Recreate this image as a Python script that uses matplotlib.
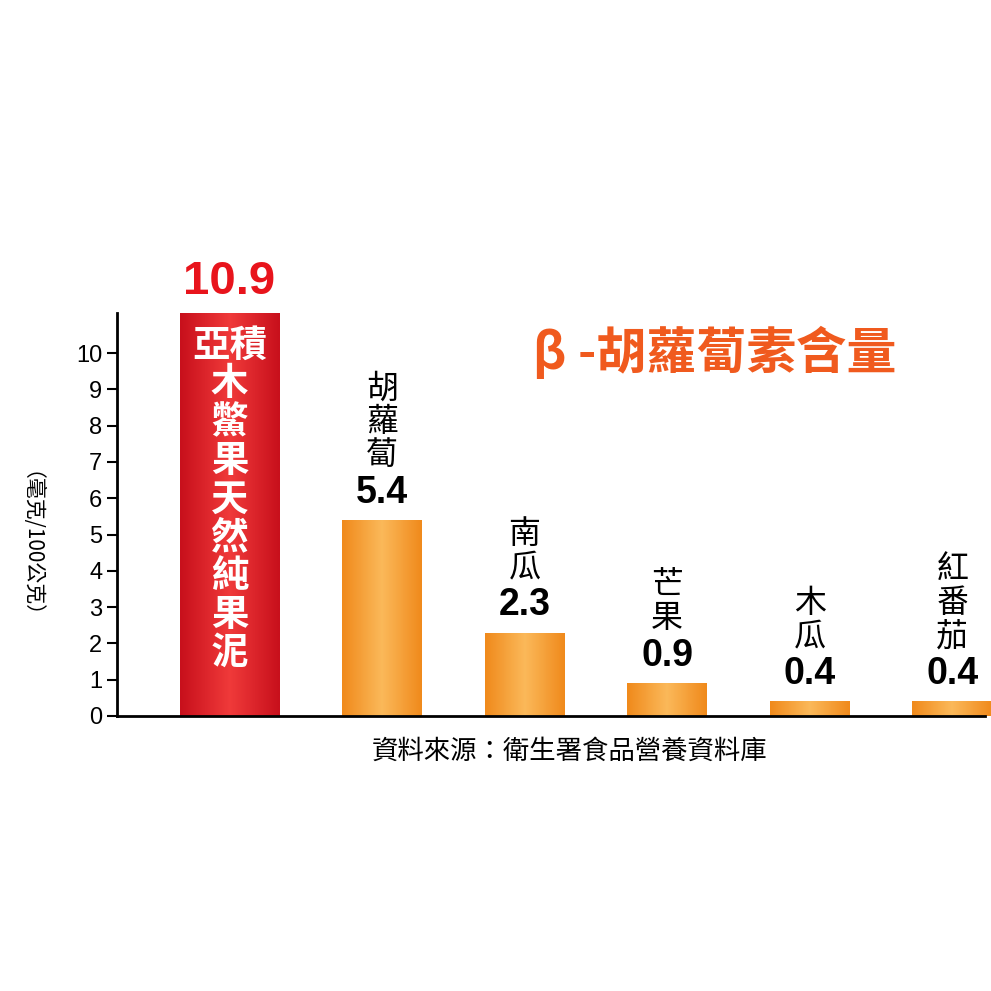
import matplotlib
matplotlib.use("Agg")
import matplotlib.pyplot as plt
import numpy as np

plt.rcParams['font.family'] = ['Noto Sans CJK TC', 'DejaVu Sans']

names = ["亞積 木鱉果天然純果泥", "胡蘿蔔", "南瓜", "芒果", "木瓜", "紅番茄"]
values = [10.9, 5.4, 2.3, 0.9, 0.4, 0.4]
value_labels = ["10.9", "5.4", "2.3", "0.9", "0.4", "0.4"]
yticks = list(range(0, 11))

fig = plt.figure(figsize=(9.91, 9.91), dpi=100)
ax = fig.add_axes([0.118, 0.2775, 0.876, 0.4065])
ax.set_xlim(-0.79, 5.3)
ax.set_ylim(0, 11.1)

x = np.array([0, 1.07, 2.07, 3.07, 4.07, 5.07]) - 0.0
widths = [0.7] + [0.56] * 5
red_cm = matplotlib.colors.LinearSegmentedColormap.from_list("r", ["#c8101c", "#f03a3a", "#c8101c"])
org_cm = matplotlib.colors.LinearSegmentedColormap.from_list("o", ["#f08a1c", "#fbb95a", "#f08a1c"])
grad = np.linspace(0, 1, 64).reshape(1, -1)
for i, (xi, v, w) in enumerate(zip(x, values, widths)):
    top = 11.1 if i == 0 else v
    bar = ax.bar(xi, top, width=w, color="none", edgecolor="none")[0]
    im = ax.imshow(grad, cmap=red_cm if i == 0 else org_cm, aspect="auto",
                   extent=[xi - w / 2, xi + w / 2, 0, top], zorder=2)
    im.set_clip_path(bar)

# labels
ax.text(x[0], 11.35, value_labels[0], ha="center", va="bottom", color="#e8141c",
        fontsize=34, fontweight="bold", family="Liberation Sans", clip_on=False)
red_txt = "\n".join(["亞積"] + list("木鱉果天然純果泥"))
ax.text(x[0], 10.75, red_txt, ha="center", va="top", color="white", fontsize=27,
        fontweight="bold", linespacing=0.98)
for xi, v, lab, nm in zip(x[1:], values[1:], value_labels[1:], names[1:]):
    ax.text(xi, v + 0.25, lab, ha="center", va="bottom", fontsize=27,
            fontweight="bold", family="Liberation Sans")
    ax.text(xi, v + 1.35, "\n".join(nm), ha="center", va="bottom", fontsize=23,
            linespacing=1.05)

ax.text(3.4, 10.0, "β -胡蘿蔔素含量", ha="center", va="center", color="#f05a1e",
        fontsize=36, fontweight="bold")

ax.set_yticks(yticks)
ax.set_yticklabels([str(t) for t in yticks], family="Liberation Sans")
ax.tick_params(axis="y", labelsize=17, length=7, width=1.5, direction="out")
ax.set_xticks([])
for s in ["top", "right"]:
    ax.spines[s].set_visible(False)
ax.spines["left"].set_linewidth(2)
ax.spines["bottom"].set_linewidth(2)

fig.text(0.02, 0.44, "（毫克/100公克）", rotation=-90, ha="center", va="center", fontsize=15)
fig.text(0.575, 0.242, "資料來源：衛生署食品營養資料庫", ha="center", va="center", fontsize=19)

fig.savefig("out.png", dpi=100, facecolor="white")
